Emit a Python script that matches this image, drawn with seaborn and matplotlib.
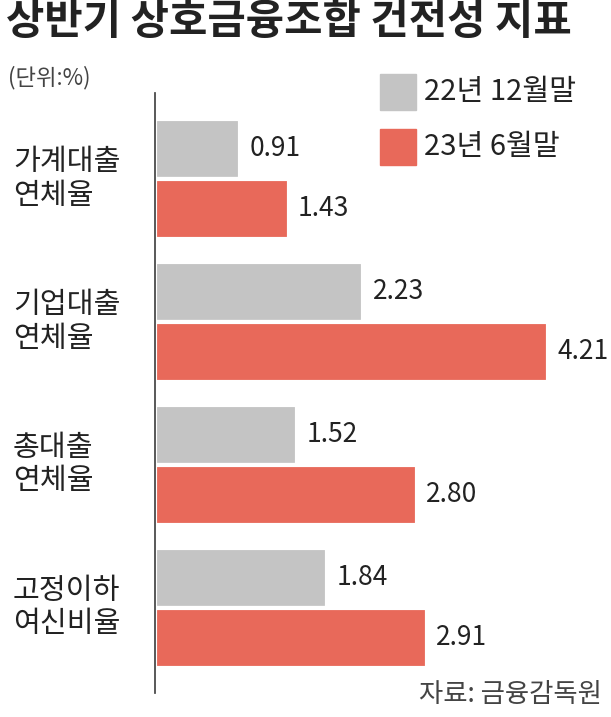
import matplotlib
matplotlib.use("Agg")
import matplotlib.pyplot as plt
import seaborn as sns
import pandas as pd
from matplotlib.patches import Rectangle

categories = ["가계대출\n연체율", "기업대출\n연체율", "총대출\n연체율", "고정이하\n여신비율"]
series = ["22년 12월말", "23년 6월말"]
dec22 = [0.91, 2.23, 1.52, 1.84]
jun23 = [1.43, 4.21, 2.80, 2.91]
colors = ["#c4c4c4", "#e8695a"]

df = pd.DataFrame({
    "cat": categories * 2,
    "series": [series[0]] * 4 + [series[1]] * 4,
    "value": dec22 + jun23,
})

sns.set_theme(style="white")
plt.rcParams["font.family"] = ["Noto Sans CJK KR", "DejaVu Sans"]

fig = plt.figure(figsize=(6.11, 7.17), dpi=100)
ax = fig.add_axes([155 / 611, 0.033, 1 - 155 / 611, 0.837])
sns.barplot(data=df, y="cat", x="value", hue="series", palette=colors,
            orient="h", width=0.84, edgecolor="white", linewidth=3,
            saturation=1, legend=False, ax=ax)
ax.set_xlim(0, 4.88)
ax.set_ylim(3.6, -0.6)
for s in ["top", "right", "bottom"]:
    ax.spines[s].set_visible(False)
ax.spines["left"].set_color("#444444")
ax.set_xticks([])
ax.set_yticks([])
ax.set_xlabel("")
ax.set_ylabel("")

for cont in ax.containers:
    for bar in cont:
        w = bar.get_width()
        ax.text(w + 0.1, bar.get_y() + bar.get_height() / 2, f"{w:.2f}",
                va="center", ha="left", fontsize=19, fontweight="medium",
                color="#222222")

for i, c in enumerate(categories):
    y = ax.transData.transform((0, i))[1]
    fig.text(13 / 611, y / 717, c, ha="left", va="center", fontsize=21,
             color="#222222", linespacing=1.15)

fig.text(6 / 611, 1 - 22 / 717, "상반기 상호금융조합 건전성 지표", ha="left",
         va="center", fontsize=30, fontweight="bold", color="#222222")
fig.text(8 / 611, 1 - 78 / 717, "(단위:%)", ha="left", va="center",
         fontsize=16, color="#444444")

for j, (lab, col) in enumerate(zip(series, colors)):
    yc = 92 + j * 55
    fig.patches.append(Rectangle((380 / 611, 1 - (yc + 18) / 717), 36 / 611,
                                 36 / 717, transform=fig.transFigure,
                                 color=col))
    fig.text(424 / 611, 1 - yc / 717, lab, ha="left", va="center",
             fontsize=21, color="#222222")

fig.text(602 / 611, 1 - 695 / 717, "자료: 금융감독원", ha="right",
         va="center", fontsize=19, color="#444444")

fig.savefig("out.png", dpi=100)
